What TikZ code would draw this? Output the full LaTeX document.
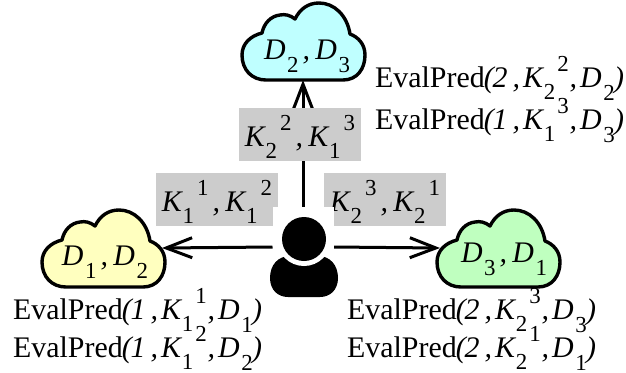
\documentclass[tikz,border=0pt]{standalone}
\usepackage{fontspec}
\setmainfont{Liberation Serif}
\usetikzlibrary{arrows.meta}
\newcommand\Sb[1]{{\fontsize{23}{23}\selectfont #1}}
\newcommand\Kk[2]{\textit{K}\kern-.5pt\raisebox{-13pt}{\Sb{#1}}\kern3pt\raisebox{16pt}{\Sb{#2}}}
\newcommand\KkE[2]{\textit{K}\kern-.5pt\raisebox{-13pt}{\Sb{#1}}\kern2pt\raisebox{16pt}{\Sb{#2}}}
\newcommand\Dd[1]{\textit{D}\kern1.5pt\raisebox{-13.5pt}{\Sb{#1}}}
\newcommand\Cm{\kern4pt\textit{,}\kern5.5pt}
\newcommand\Ev[4]{EvalPred\kern-1pt\textit{(\kern-1pt#1\kern5pt,\kern3pt}\KkE{#2}{#3}\kern1pt\textit{,\kern3pt}\Dd{#4}\kern-.5pt\textit{)}}
\definecolor{cyancloud}{RGB}{191,255,255}
\definecolor{yellowcloud}{RGB}{255,255,191}
\definecolor{greencloud}{RGB}{191,255,191}
\definecolor{keybox}{RGB}{204,204,204}
\tikzset{
  x=1bp,y=-1bp,
  cloudslot/.style={minimum width=117bp,minimum height=77bp,inner sep=0pt,outer sep=0pt},
  cloudline/.style={line width=3.4bp,line join=round},
  keynode/.style={fill=keybox,minimum width=122bp,inner sep=0pt,outer sep=0pt,text height=38bp,text depth=15bp,font=\fontsize{30}{30}\selectfont},
  evaltext/.style={anchor=base west,inner sep=0pt,font=\fontsize{30}{30}\selectfont},
  cloudtext/.style={anchor=base,inner sep=0pt,font=\fontsize{30}{30}\selectfont},
  conn/.style={line width=3bp,-{Straight Barb[length=26bp,width=20bp,line width=3bp]}},
  userslot/.style={minimum width=61bp,minimum height=80bp,inner sep=0pt,outer sep=0pt},
  cloudshape/.pic={
    \path[pic actions,cloudline] (24,77) -- (101,77)
      .. controls (115,77) and (123,66) .. (123,52)
      .. controls (123,41) and (116,34) .. (108,31)
      .. controls (105,12) and (92,0) .. (77,0)
      .. controls (66,0) and (58,6) .. (53,16)
      .. controls (48,12) and (43,11) .. (38,12)
      .. controls (29,13) and (22,20) .. (20,30)
      .. controls (8,33) and (0,41) .. (0,52)
      .. controls (0,67) and (10,77) .. (24,77) -- cycle;
  }
}
\begin{document}
\begin{tikzpicture}
\useasboundingbox (0,0) rectangle (626,372);
% node slots
\node[cloudslot] (top) at (303.5,41.5) {};
\node[cloudslot] (left) at (103.5,248) {};
\node[cloudslot] (right) at (498.5,248) {};
\node[userslot] (user) at (303,247) {};
% clouds
\pic[draw=black,fill=cyancloud] at (242,3) {cloudshape};
\pic[draw=black,fill=yellowcloud] at (42,210) {cloudshape};
\pic[draw=black,fill=greencloud] at (437,210) {cloudshape};
% connectors
\draw[conn] (user.north) -- (user.north |- top.south);
\draw[conn] (user.west) -- (left.east);
\draw[conn] (user.east) -- (right.west);
% key boxes
\node[keynode] (ktop) at (300,134.5) {\Kk{2}{2}\Cm\Kk{1}{3}};
\node[keynode] (kleft) at (217,199.5) {\Kk{1}{1}\Cm\Kk{1}{2}};
\node[keynode] (kright) at (385,199.5) {\Kk{2}{3}\Cm\Kk{2}{1}};
% user
\fill[white] (user.south west) rectangle (user.north east);
\fill[black] (270,278) .. controls (270,265) and (278,256) .. (290,256) -- (318,256)
  .. controls (330,256) and (338,265) .. (338,278)
  .. controls (338,290) and (330,297) .. (320,297) -- (288,297)
  .. controls (278,297) and (270,290) .. (270,278) -- cycle;
\fill[white] (304,239) circle (27);
\fill[black] (304,239) circle (22);
% cloud labels
\node[cloudtext] (ltop) at (307,59) {\Dd{2}\Cm\Dd{3}};
\node[cloudtext] (lleft) at (105,265) {\Dd{1}\Cm\Dd{2}};
\node[cloudtext] (lright) at (504,262) {\Dd{3}\Cm\Dd{1}};
% evaluation texts
\node[evaltext] (e1) at (375,87) {\Ev{2}{2}{2}{2}};
\node[evaltext] (e2) at (375,129) {\Ev{\textit{1}}{1}{3}{3}};
\node[evaltext] (e3) at (13,319) {\Ev{\textit{1}}{1}{1}{1}};
\node[evaltext] (e4) at (13,357) {\Ev{\textit{1}}{1}{2}{2}};
\node[evaltext] (e5) at (347,319) {\Ev{2}{2}{3}{3}};
\node[evaltext] (e6) at (347,357) {\Ev{2}{2}{1}{1}};
\end{tikzpicture}
\end{document}
